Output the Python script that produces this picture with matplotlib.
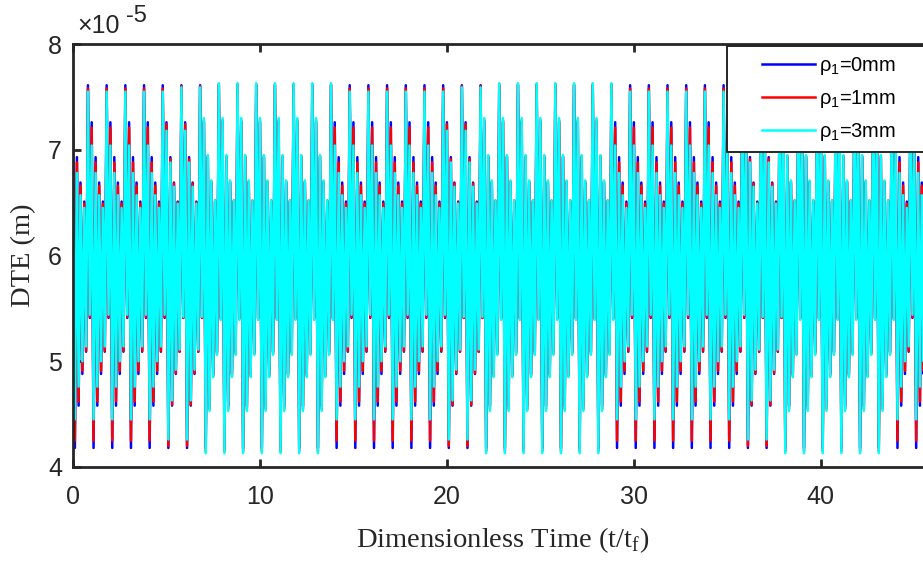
import numpy as np
import matplotlib
matplotlib.use("Agg")
import matplotlib.pyplot as plt
from matplotlib.legend_handler import HandlerLine2D

plt.rcParams["font.family"] = ["Liberation Sans", "DejaVu Sans"]
plt.rcParams["mathtext.fontset"] = "custom"
plt.rcParams["mathtext.rm"] = "Liberation Serif"
plt.rcParams["mathtext.sf"] = "Liberation Sans"

# times of the extrema inside one period (t/tf)
T_OFFSETS = [0.0, 0.10, 0.21, 0.30, 0.40, 0.50, 0.60, 0.70, 0.80, 0.90]
N_PERIODS = 46

# how each period looks: N = curves spread apart, M = in between, F = curves on top of each other
PHASE = "".join(["NNNNN", "MM", "FFFFFFF", "NNNNNN", "MM", "FFFFFFF",
                 "NNNNNNN", "MM", "FFFFFF", "NN"])

# extrema of one period, x1e-5 m
DTE_0MM = [7.26, 4.18, 6.93, 4.58, 6.69, 4.88, 6.51, 5.09, 7.61, 5.41]

DTE_1MM = {
    "N": [7.21, 4.25, 6.88, 4.62, 6.66, 4.91, 6.49, 5.10, 7.58, 5.42],
    "M": [7.24, 4.20, 6.91, 4.59, 6.68, 4.89, 6.50, 5.09, 7.60, 5.41],
    "F": [7.28, 4.15, 6.94, 4.55, 6.70, 4.86, 6.52, 5.07, 7.62, 5.40],
}
DTE_3MM = {
    "N": [7.04, 4.45, 6.78, 4.76, 6.57, 5.00, 6.45, 5.14, 7.55, 5.44],
    "M": [7.18, 4.26, 6.88, 4.63, 6.65, 4.92, 6.49, 5.11, 7.59, 5.42],
    "F": [7.30, 4.13, 6.95, 4.53, 6.71, 4.85, 6.52, 5.06, 7.63, 5.39],
}

LABELS = [r"ρ$_{\mathsf{1}}$=0mm", r"ρ$_{\mathsf{1}}$=1mm", r"ρ$_{\mathsf{1}}$=3mm"]
COLORS = ["#0000ff", "#ff0000", "#00ffff"]

t = np.concatenate([k + np.array(T_OFFSETS) for k in range(N_PERIODS)])
y0 = np.concatenate([DTE_0MM for p in PHASE])
y1 = np.concatenate([DTE_1MM[p] for p in PHASE])
y3 = np.concatenate([DTE_3MM[p] for p in PHASE])


class RightLine(HandlerLine2D):
    # MATLAB style legend: short line sitting on the right of the handle box
    def create_artists(self, legend, orig_handle, xdescent, ydescent, width,
                       height, fontsize, trans):
        arts = super().create_artists(legend, orig_handle, xdescent, ydescent,
                                      width, height, fontsize, trans)
        for a in arts:
            n = len(a.get_ydata())
            a.set_xdata(np.linspace(-xdescent + width - 38, -xdescent + width, n))
        return arts


fig = plt.figure(figsize=(9.23, 5.61), dpi=100)
ax = fig.add_axes([73 / 923, 94 / 561, 860 / 923, 423 / 561])

lines = []
for y, c, lab in zip([y0, y1, y3], COLORS, LABELS):
    ln, = ax.plot(t, y, color=c, lw=1.8, label=lab)
    lines.append(ln)

ax.set_xlim(0, 46)
ax.set_ylim(4, 8)
ax.set_xticks([0, 10, 20, 30, 40])
ax.set_yticks([4, 5, 6, 7, 8])
ax.tick_params(direction="in", length=6, width=2, colors="#262626",
               labelsize=18, top=True, right=True)
ax.tick_params(axis="x", pad=13)
ax.tick_params(axis="y", pad=8)
for s in ax.spines.values():
    s.set_linewidth(2)
    s.set_color("#262626")

ax.set_xlabel(r"Dimensionless Time (t/t$_{\mathrm{f}}$)", family="Liberation Serif",
              fontsize=20.5, color="#262626", va="center")
ax.xaxis.set_label_coords(0.5, -0.172)
ax.set_ylabel("DTE (m)", family="Liberation Serif", fontsize=20.5, color="#262626",
              va="center")
ax.yaxis.set_label_coords(-0.057, 0.5)

# MATLAB-style exponent above the y axis
fig.text(77 / 923, 1 - 33 / 561, "×10", fontsize=18, color="#262626", va="baseline")
fig.text(126 / 923, 1 - 22 / 561, "-5", fontsize=17, color="#262626", va="baseline")

leg = ax.legend(handles=lines, loc="upper left", mode="expand",
                bbox_to_anchor=(727 / 923, 1 - 45.7 / 561 - 0.01, 205 / 923, 0.01),
                bbox_transform=fig.transFigure, borderaxespad=0,
                fontsize=14.5, handlelength=3.92, handletextpad=0.2,
                labelspacing=0.55, borderpad=0.45, fancybox=False,
                framealpha=1, handler_map={matplotlib.lines.Line2D: RightLine()})
leg.get_frame().set_edgecolor("#262626")
leg.get_frame().set_linewidth(1.4)

fig.savefig("out.png", dpi=100)
